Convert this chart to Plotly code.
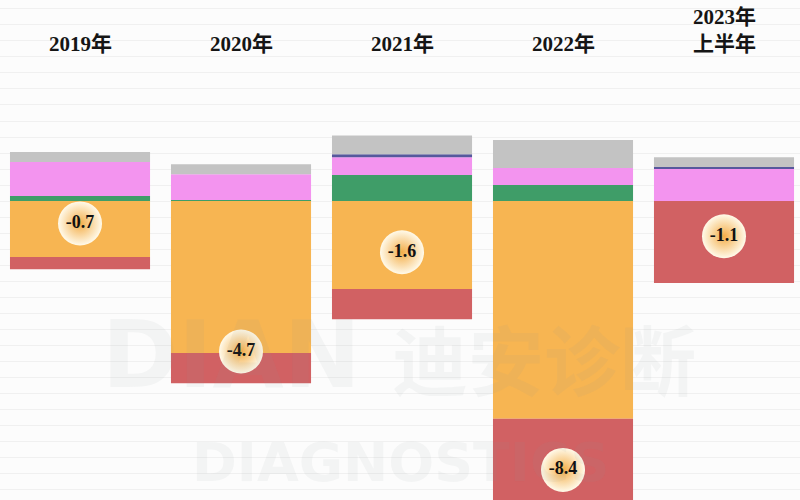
import plotly.graph_objects as go

years = ["2019年", "2020年", "2021年", "2022年", "2023年<br>上半年"]
net_labels = [-0.7, -4.7, -1.6, -8.4, -1.1]

# segment values (positive stack upward, negative downward)
green = [0.16, 0.03, 0.81, 0.50, 0.0]
pink = [1.06, 0.81, 0.56, 0.53, 1.00]
blue = [0.0, 0.0, 0.09, 0.0, 0.06]
gray = [0.31, 0.31, 0.59, 0.88, 0.31]
orange = [-1.75, -4.75, -2.75, -6.80, 0.0]
red = [-0.38, -0.94, -0.94, -2.80, -2.56]

colors = {
    "green": "#3f9d68",
    "pink": "#f394ef",
    "blue": "#56589c",
    "gray": "#c3c3c3",
    "orange": "#f7b552",
    "red": "#d16163",
}

x = list(range(len(years)))
fig = go.Figure()

for name, vals in [("green", green), ("pink", pink), ("blue", blue), ("gray", gray),
                   ("orange", orange), ("red", red)]:
    fig.add_trace(go.Bar(x=x, y=vals, name=name, width=0.87,
                         marker=dict(color=colors[name], line=dict(width=0)),
                         hoverinfo="skip", showlegend=False))

# net value badges
fig.add_trace(go.Scatter(
    x=x, y=net_labels, mode="markers+text",
    text=[f"{v:.1f}" for v in net_labels],
    textposition="middle center",
    textfont=dict(family="Liberation Serif", size=18, color="#111111", weight="bold"),
    marker=dict(size=44, color="#fffaea",
                gradient=dict(type="radial", color="#f3ad48"),
                line=dict(width=0)),
    hoverinfo="skip", showlegend=False))

# year labels at top
for xi, lab in zip(x, years):
    fig.add_annotation(x=xi, y=1 - 58 / 500, xref="x", yref="paper",
                       text=f"<b>{lab}</b>", showarrow=False, yanchor="bottom",
                       xanchor="center",
                       font=dict(family="Liberation Serif, Noto Sans CJK SC", size=21,
                                 color="#151515"))

# faint watermark
wm = "rgba(140,150,150,0.08)"
fig.add_annotation(x=0.29, y=1 - 355 / 500, xref="paper", yref="paper", text="<b>DIAN</b>",
                   xanchor="center", yanchor="middle", showarrow=False,
                   font=dict(family="DejaVu Sans", size=92, color=wm))
fig.add_annotation(x=0.68, y=1 - 357 / 500, xref="paper", yref="paper", text="<b>迪安诊断</b>",
                   xanchor="center", yanchor="middle", showarrow=False,
                   font=dict(family="Noto Sans CJK SC", size=76, color=wm))
fig.add_annotation(x=0.5, y=1 - 462 / 500, xref="paper", yref="paper", text="<b>DIAGNOSTICS</b>",
                   xanchor="center", yanchor="middle", showarrow=False,
                   font=dict(family="DejaVu Sans", size=54, color=wm))

fig.update_layout(
    barmode="relative",
    width=800, height=500,
    margin=dict(l=0, r=0, t=0, b=0),
    paper_bgcolor="#fcfcfc",
    plot_bgcolor="#fcfcfc",
    xaxis=dict(range=[-0.497, 4.472], visible=False, fixedrange=True),
    yaxis=dict(range=[-9.34, 6.28], showticklabels=False, zeroline=False,
               showgrid=True, gridcolor="#f0f0f0", dtick=0.5, fixedrange=True),
)

fig.write_html("out.html", config={"displayModeBar": False, "staticPlot": True},
               post_script="document.body.style.margin='0';document.body.style.overflow='hidden';")
